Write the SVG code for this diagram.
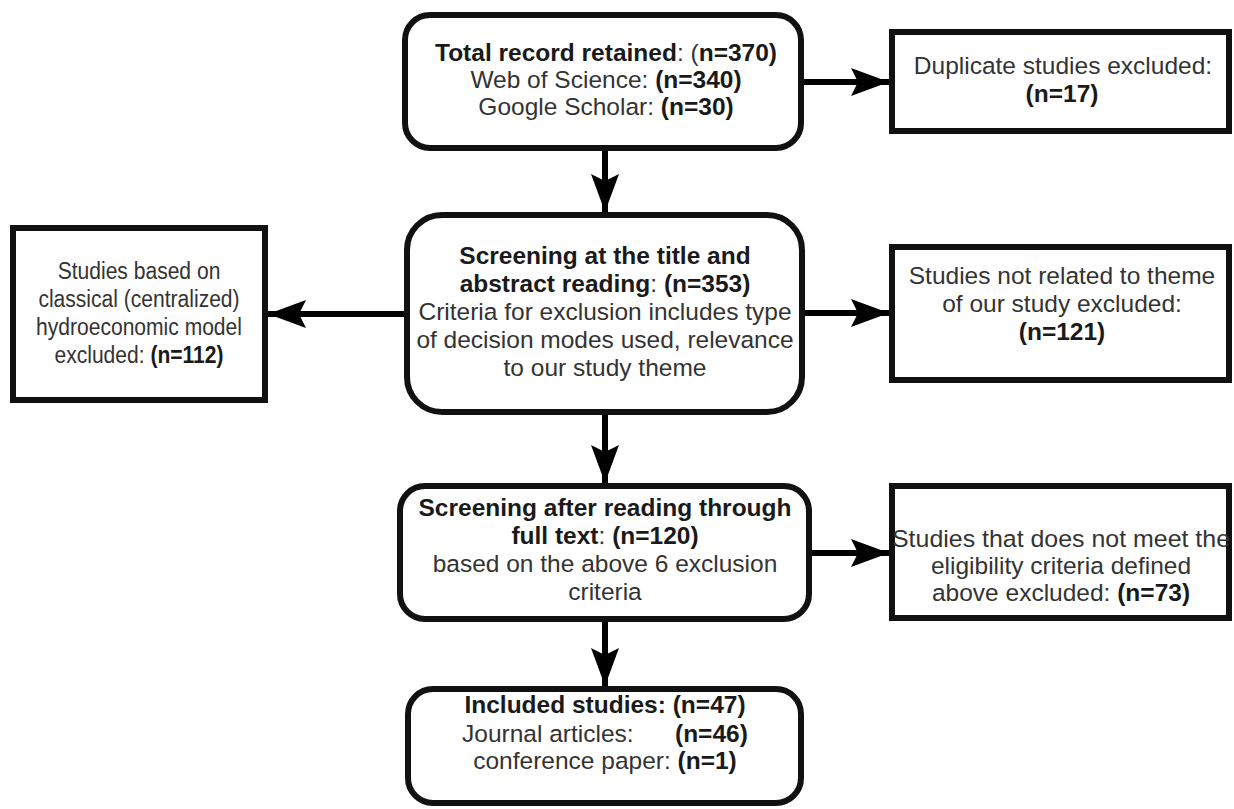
<svg xmlns="http://www.w3.org/2000/svg" width="1234" height="809" viewBox="0 0 1234 809">
<style>
.box{fill:#fff;stroke:#111;stroke-width:6}
.t{font-family:"Liberation Sans",Arial,sans-serif;font-size:24.5px;fill:#333;text-anchor:middle}
.b{font-weight:bold;fill:#1a1a1a}
.c{stroke:#000;stroke-width:6;fill:none}
</style>
<defs>
<marker id="ah" markerUnits="userSpaceOnUse" markerWidth="40" markerHeight="30" viewBox="0 0 40 30" refX="38" refY="15" orient="auto">
<path d="M0,1 L38,15 L0,29 L7,15 Z" fill="#000"/>
</marker>
</defs>
<g id="connectors">
<line class="c" x1="605" y1="151" x2="605" y2="212" marker-end="url(#ah)"/>
<line class="c" x1="804" y1="82" x2="889" y2="82" marker-end="url(#ah)"/>
<line class="c" x1="404" y1="314" x2="268" y2="314" marker-end="url(#ah)"/>
<line class="c" x1="805" y1="313" x2="889" y2="313" marker-end="url(#ah)"/>
<line class="c" x1="605" y1="415" x2="605" y2="483" marker-end="url(#ah)"/>
<line class="c" x1="812" y1="553" x2="889" y2="553" marker-end="url(#ah)"/>
<line class="c" x1="605" y1="622" x2="605" y2="686" marker-end="url(#ah)"/>
</g>
<g id="total">
<rect class="box" x="405" y="15" width="396" height="133" rx="25"/>
<text class="t" x="606" y="61"><tspan class="b">Total record retained</tspan>: (<tspan class="b">n=370)</tspan></text>
<text class="t" x="606" y="88">Web of Science: <tspan class="b">(n=340)</tspan></text>
<text class="t" x="606" y="115">Google Scholar: <tspan class="b">(n=30)</tspan></text>
</g>
<g id="duplicate">
<rect class="box" x="892" y="32" width="337" height="99"/>
<text class="t" x="1063" y="74">Duplicate studies excluded:</text>
<text class="t" x="1062" y="102"><tspan class="b">(n=17)</tspan></text>
</g>
<g id="screening1">
<rect class="box" x="407" y="215" width="395" height="197" rx="35"/>
<text class="t" x="605" y="264"><tspan class="b">Screening at the title and</tspan></text>
<text class="t" x="605" y="292"><tspan class="b">abstract reading</tspan>: <tspan class="b">(n=353)</tspan></text>
<text class="t" x="605" y="320">Criteria for exclusion includes type</text>
<text class="t" x="605" y="348">of decision modes used, relevance</text>
<text class="t" x="605" y="376">to our study theme</text>
</g>
<g id="classical">
<rect class="box" x="13" y="228" width="252" height="172"/>
<g transform="translate(139 0) scale(0.86 1) translate(-139 0)">
<text class="t" x="139" y="279">Studies based on</text>
<text class="t" x="139" y="307">classical (centralized)</text>
<text class="t" x="139" y="335">hydroeconomic model</text>
<text class="t" x="139" y="363">excluded: <tspan class="b">(n=112)</tspan></text>
</g>
</g>
<g id="notrelated">
<rect class="box" x="892" y="247" width="337" height="133"/>
<text class="t" x="1062" y="284">Studies not related to theme</text>
<text class="t" x="1062" y="312">of our study excluded:</text>
<text class="t" x="1062" y="340"><tspan class="b">(n=121)</tspan></text>
</g>
<g id="screening2">
<rect class="box" x="400" y="486" width="409" height="133" rx="25"/>
<text class="t" x="605" y="516"><tspan class="b">Screening after reading through</tspan></text>
<text class="t" x="605" y="544"><tspan class="b">full text</tspan>: <tspan class="b">(n=120)</tspan></text>
<text class="t" x="605" y="572">based on the above 6 exclusion</text>
<text class="t" x="605" y="600">criteria</text>
</g>
<g id="eligibility">
<rect class="box" x="892" y="486" width="337" height="132"/>
<text class="t" x="1061" y="547" textLength="338" lengthAdjust="spacingAndGlyphs">Studies that does not meet the</text>
<text class="t" x="1061" y="574">eligibility criteria defined</text>
<text class="t" x="1061" y="601">above excluded: <tspan class="b">(n=73)</tspan></text>
</g>
<g id="included">
<rect class="box" x="408" y="689" width="393" height="114" rx="25"/>
<text class="t" x="605" y="713"><tspan class="b">Included studies: (n=47)</tspan></text>
<text class="t" x="462" y="742" style="text-anchor:start">Journal articles:</text>
<text class="t b" x="675" y="742" style="text-anchor:start">(n=46)</text>
<text class="t" x="605" y="769">conference paper: <tspan class="b">(n=1)</tspan></text>
</g>
</svg>
